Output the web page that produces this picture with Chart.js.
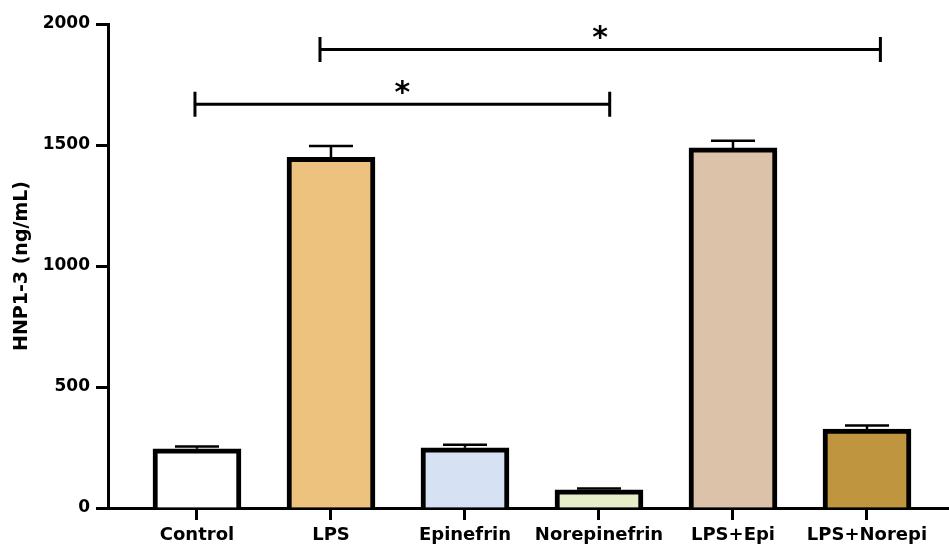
<!DOCTYPE html>
<html>
<head>
<meta charset="utf-8">
<script src="https://cdn.jsdelivr.net/npm/chart.js@4"></script>
<style>
  body { margin: 0; background: #fff; }
  #wrap { width: 949px; height: 548px; }
</style>
</head>
<body>
<div id="wrap"><canvas id="hnp"></canvas></div>
<script>
const categories = ["Control", "LPS", "Epinefrin", "Norepinefrin", "LPS+Epi", "LPS+Norepi"];
const means = [245, 1449, 249, 75, 1488, 326];
const sem = [9, 47, 12, 6, 30, 15];
const barColors = ["#ffffff", "#edc27e", "#d6e2f4", "#e5edc9", "#dbc2a9", "#bf963f"];
const yTicks = [0, 500, 1000, 1500, 2000];

// significance brackets: x in category units, y in ng/mL
const brackets = [
  { from: -0.015, to: 3.08, y: 1668, label: "*" },
  { from: 0.918, to: 5.10, y: 1895, label: "*" },
];

const FONT = "'DejaVu Sans', sans-serif";

// error bars (upper only) and the significance brackets
const extras = {
  id: "extras",
  afterDatasetsDraw(chart) {
    const ctx = chart.ctx;
    const x = chart.scales.x;
    const y = chart.scales.y;
    ctx.save();
    ctx.strokeStyle = "#000";
    ctx.lineCap = "butt";

    // error bars
    ctx.lineWidth = 2.5;
    for (let i = 0; i < means.length; i++) {
      const cx = x.getPixelForValue(i);
      const top = y.getPixelForValue(means[i]);
      const cap = y.getPixelForValue(means[i] + sem[i]);
      ctx.beginPath();
      ctx.moveTo(cx, top);
      ctx.lineTo(cx, cap);
      ctx.moveTo(cx - 22, cap);
      ctx.lineTo(cx + 22, cap);
      ctx.stroke();
    }

    // brackets
    ctx.lineWidth = 3;
    ctx.fillStyle = "#000";
    ctx.font = "bold 30px " + FONT;
    ctx.textAlign = "center";
    ctx.textBaseline = "alphabetic";
    brackets.forEach((b) => {
      const x1 = x.getPixelForValue(b.from);
      const x2 = x.getPixelForValue(b.to);
      const by = y.getPixelForValue(b.y);
      ctx.beginPath();
      ctx.moveTo(x1, by);
      ctx.lineTo(x2, by);
      ctx.moveTo(x1, by - 12.5);
      ctx.lineTo(x1, by + 12.5);
      ctx.moveTo(x2, by - 12.5);
      ctx.lineTo(x2, by + 12.5);
      ctx.stroke();
      const m = ctx.measureText(b.label);
      const centerY = by - 17;
      const base = centerY - (m.actualBoundingBoxDescent - m.actualBoundingBoxAscent) / 2;
      ctx.fillText(b.label, (x1 + x2) / 2, base);
    });
    ctx.restore();
  },
};

new Chart(document.getElementById("hnp"), {
  type: "bar",
  data: {
    datasets: [{
      data: means.map((v, i) => ({ x: i, y: v })),
      backgroundColor: barColors,
      borderColor: "#000",
      borderWidth: 5,
      barThickness: 88,
    }],
  },
  options: {
    responsive: true,
    maintainAspectRatio: false,
    animation: false,
    layout: { padding: { top: 24, right: 0, left: 0, bottom: 0 } },
    plugins: {
      legend: { display: false },
      tooltip: { enabled: false },
    },
    scales: {
      x: {
        type: "linear",
        offset: false,
        min: -0.664,
        max: 5.612,
        afterBuildTicks: (scale) => {
          scale.ticks = categories.map((c, i) => ({ value: i }));
        },
        afterFit: (scale) => { scale.height = 40; },
        grid: { offset: false, drawOnChartArea: false, drawTicks: true, tickLength: 12, tickWidth: 3, tickColor: "#000" },
        border: { display: true, color: "#000", width: 3 },
        ticks: {
          color: "#000",
          padding: 5,
          maxRotation: 0,
          autoSkip: false,
          font: { family: FONT, size: 18, weight: "bold" },
          callback: (v) => categories[v],
        },
      },
      y: {
        min: 0,
        max: 2000,
        afterBuildTicks: (scale) => {
          scale.ticks = yTicks.map((v) => ({ value: v }));
        },
        afterFit: (scale) => { scale.width = 108; },
        grid: { drawOnChartArea: false, drawTicks: true, tickLength: 12, tickWidth: 3, tickColor: "#000" },
        border: { display: true, color: "#000", width: 3 },
        ticks: {
          color: "#000",
          padding: 6,
          font: { family: FONT, size: 17, weight: "bold" },
          callback: (v) => String(v),
        },
        title: {
          display: true,
          text: "HNP1-3 (ng/mL)",
          color: "#000",
          padding: { top: 11, bottom: 4 },
          font: { family: FONT, size: 19, weight: "bold" },
        },
      },
    },
  },
  plugins: [extras],
});
</script>
</body>
</html>
